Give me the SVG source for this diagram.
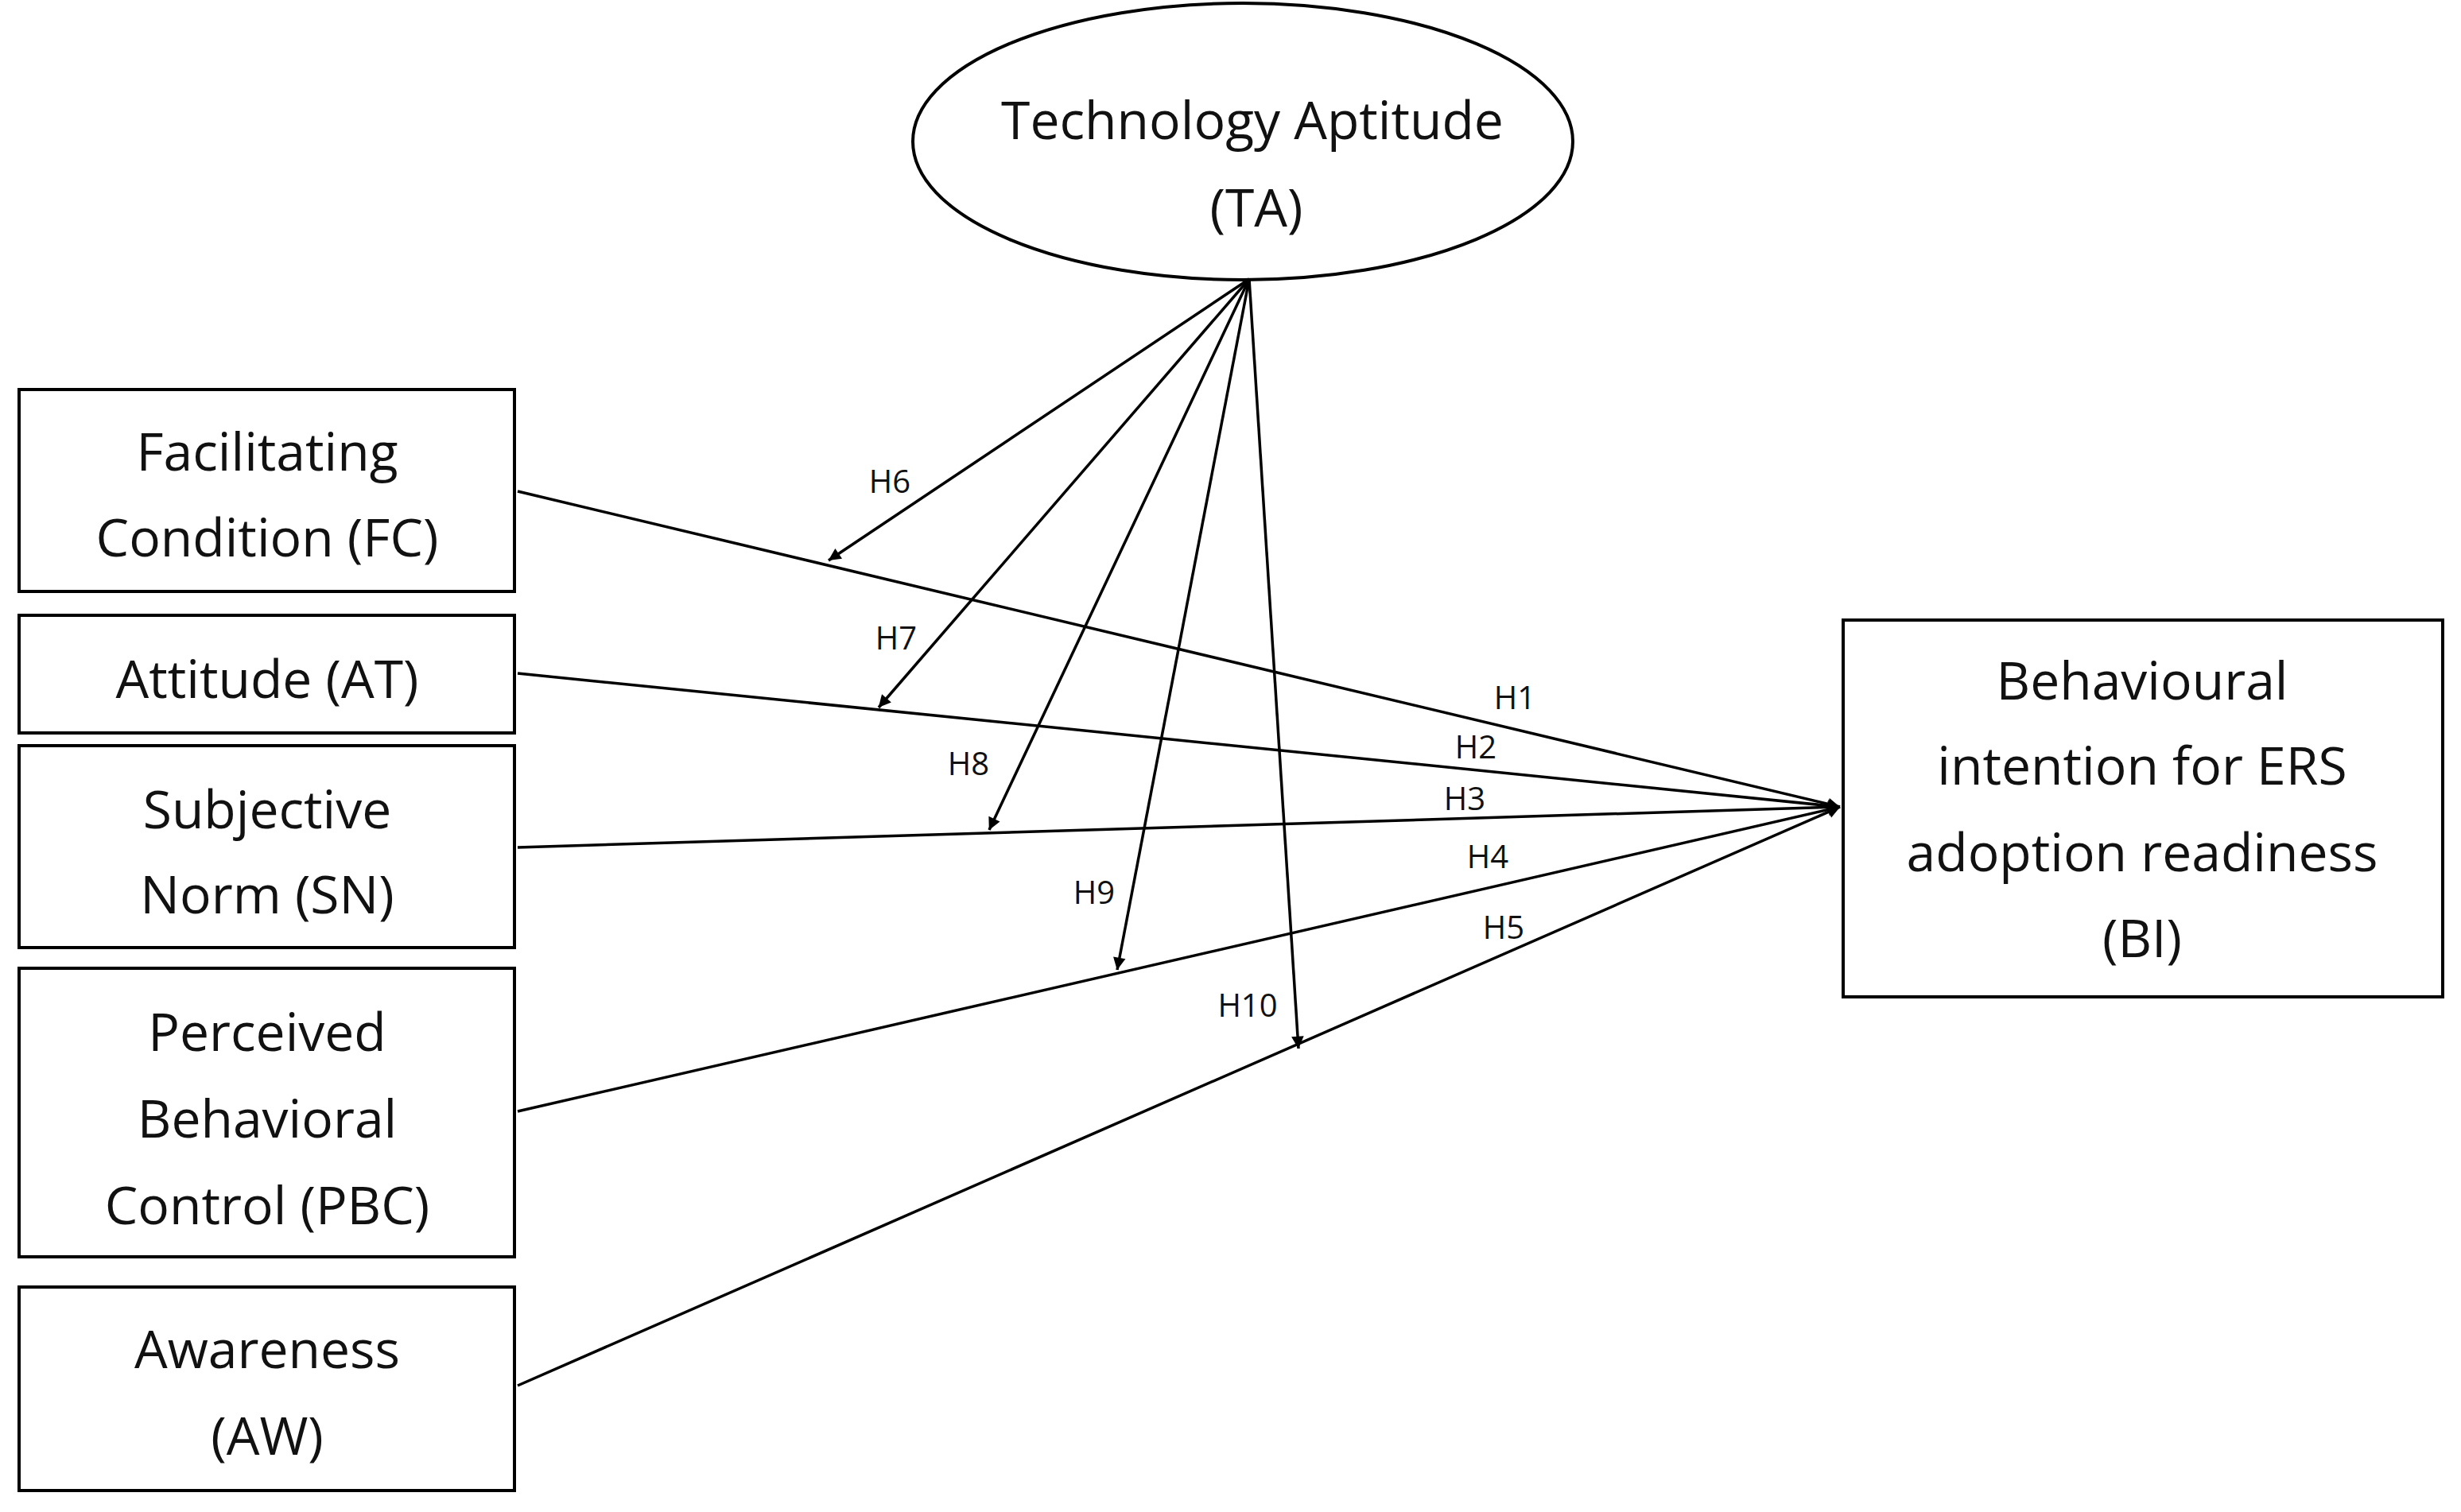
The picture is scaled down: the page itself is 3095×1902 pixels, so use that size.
<svg xmlns="http://www.w3.org/2000/svg" width="3095" height="1902" viewBox="0 0 3095 1902">
<style>
.b{fill:#fff;stroke:#000;stroke-width:4}
.t{font-family:"Open Sans","Liberation Sans",sans-serif;font-size:66px;text-anchor:middle;fill:#111}
.h{font-family:"Open Sans","Liberation Sans",sans-serif;font-size:40px;text-anchor:middle;fill:#111}
.c line{stroke:#000;stroke-width:3.5;marker-end:url(#a)}
</style>
<defs><marker id="a" viewBox="0 0 10 10" refX="10" refY="5" markerWidth="6" markerHeight="6" orient="auto" markerUnits="userSpaceOnUse" style="overflow:visible"><path d="M0,0 L10,5 L0,10 z" transform="scale(2.6) translate(-6,-3)" fill="#000"/></marker></defs>
<rect width="3095" height="1902" fill="#fff"/>
<g id="TA"><ellipse class="b" cx="1563" cy="178" rx="415" ry="174"/><text class="t" x="1575" y="175">Technology Aptitude</text><text class="t" x="1580" y="285">(TA)</text></g>
<g id="FC"><rect class="b" x="24" y="490" width="623" height="254"/><text class="t" x="336" y="592">Facilitating</text><text class="t" x="336" y="700">Condition (FC)</text></g>
<g id="AT"><rect class="b" x="24" y="774" width="623" height="148"/><text class="t" x="336" y="878">Attitude (AT)</text></g>
<g id="SN"><rect class="b" x="24" y="938" width="623" height="254"/><text class="t" x="336" y="1042">Subjective</text><text class="t" x="336" y="1149">Norm (SN)</text></g>
<g id="PBC"><rect class="b" x="24" y="1218" width="623" height="363"/><text class="t" x="336" y="1322">Perceived</text><text class="t" x="336" y="1431">Behavioral</text><text class="t" x="336" y="1540">Control (PBC)</text></g>
<g id="AW"><rect class="b" x="24" y="1619" width="623" height="256"/><text class="t" x="336" y="1721">Awareness</text><text class="t" x="336" y="1830">(AW)</text></g>
<g id="BI"><rect class="b" x="2318" y="780" width="754" height="474"/><text class="t" x="2694" y="880">Behavioural</text><text class="t" x="2694" y="987">intention for ERS</text><text class="t" x="2694" y="1096">adoption readiness</text><text class="t" x="2694" y="1204">(BI)</text></g>
<g id="connectors" class="c">
<line x1="651" y1="618" x2="2314" y2="1015"/>
<line x1="651" y1="847" x2="2314" y2="1015"/>
<line x1="651" y1="1066" x2="2314" y2="1015"/>
<line x1="651" y1="1398" x2="2314" y2="1015"/>
<line x1="651" y1="1743" x2="2314" y2="1015"/>
<line x1="1571" y1="351" x2="1042" y2="705"/>
<line x1="1571" y1="351" x2="1105" y2="890"/>
<line x1="1571" y1="351" x2="1244" y2="1044"/>
<line x1="1571" y1="351" x2="1405" y2="1220"/>
<line x1="1571" y1="351" x2="1633" y2="1319"/>
</g>
<g id="labels">
<text class="h" x="1905" y="892">H1</text><text class="h" x="1856" y="954">H2</text><text class="h" x="1842" y="1019">H3</text><text class="h" x="1871" y="1092">H4</text><text class="h" x="1891" y="1181">H5</text>
<text class="h" x="1119" y="620">H6</text><text class="h" x="1127" y="817">H7</text><text class="h" x="1218" y="975">H8</text><text class="h" x="1376" y="1137">H9</text><text class="h" x="1569" y="1279">H10</text>
</g>
</svg>
